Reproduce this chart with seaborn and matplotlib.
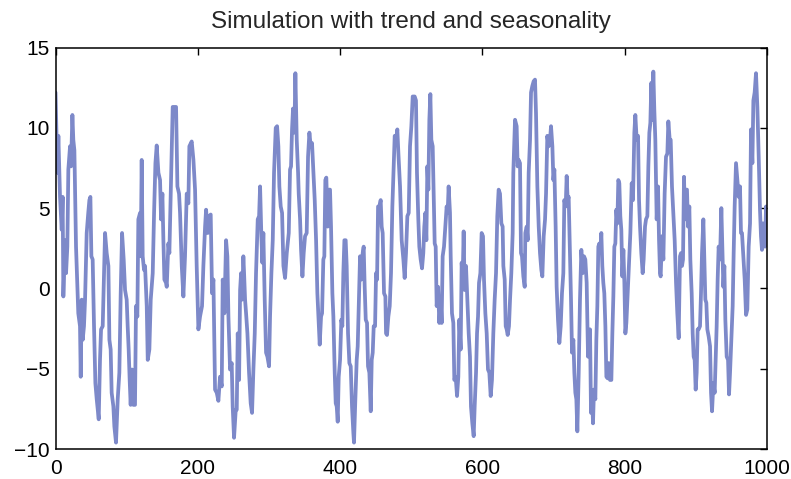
import matplotlib
matplotlib.use("Agg")
import matplotlib.pyplot as plt
import seaborn as sns
import pandas as pd

title = "Simulation with trend and seasonality"
x_ticks = [0, 200, 400, 600, 800, 1000]
y_ticks = [-10, -5, 0, 5, 10, 15]

t = [0, 2.6, 4, 6.3, 8.7, 10, 11, 13.4, 14.8, 16.6, 18, 20.4, 21.8, 23.7, 25, 26.5, 28.8, 32, 34.4, 35.4,
     36.8, 38.2, 40, 41.5, 43.8, 46, 47.6, 49, 50.4, 52.2, 54.1, 56, 57.9, 60.7, 62.5, 64, 66.3, 68.2, 69.6, 71.9,
     74.3, 75.7, 77.5, 78.9, 81.3, 82.7, 85, 87.4, 89.7, 91.6, 93.5, 95.8, 97.7, 100, 101.4, 102.8, 104.2, 105.6, 107.5, 109.4,
     111.7, 113.1, 115, 116.4, 118.8, 119.7, 121.1, 122.5, 124.4, 125.8, 128.2, 129.6, 131.9, 133.8, 136.6, 138.5, 140.4, 142.2, 144.6, 146.9,
     148.3, 150.2, 151.6, 153, 155.3, 156.3, 158.6, 160, 161.9, 163.8, 164.7, 167, 169.4, 171.3, 173.6, 175, 177.4, 179.7, 182, 184.4,
     186.7, 188.1, 191.4, 193.8, 196.1, 198.4, 200.8, 203.1, 205.9, 207.8, 210.2, 211.6, 213.9, 215.8, 218.1, 220, 221.9, 224.2, 226.6, 228.9,
     231.2, 233.6, 235, 237.3, 239.7, 241.5, 243, 245.3, 247.6, 249, 250.9, 253.3, 254.7, 256.1, 258, 259.4, 260.8, 262.2, 264, 265,
     266.4, 267.8, 269.7, 272, 274.3, 276.2, 278.1, 280, 281.8, 284.2, 286.1, 287.5, 289.3, 290.7, 292.1, 294, 295.9, 297.8, 300.1, 301.5,
     303.4, 305.3, 307.1, 309.5, 311.4, 313.2, 314.6, 316.5, 318.4, 320.3, 322.6, 325, 327.8, 329.6, 331, 332.4, 333.8, 335.7, 337.1, 339,
     340.9, 341.8, 343.7, 345.1, 347, 348.8, 350.7, 353, 354.9, 356.8, 358.7, 360.5, 362.4, 364.3, 366.2, 368, 369.9, 371.3, 373.2, 374.6,
     376.4, 377.8, 379.2, 380.6, 382.5, 384.4, 385.8, 387.2, 389.1, 390.5, 392.4, 393.8, 395.2, 396.6, 398, 399.9, 401.7, 403.1, 404.5, 406,
     407.8, 409.2, 411.1, 413, 414.9, 416.7, 418.6, 419.5, 421.4, 423.3, 424.7, 426.6, 428, 429.8, 431.7, 433.1, 434.5, 436, 437.8, 439.2,
     441.1, 443, 444.4, 445.8, 447.2, 449.1, 450.5, 451.9, 453.3, 455.1, 457, 458.4, 459.8, 461.7, 463.6, 464.5, 465.9, 467.8, 469.7, 471.5,
     473.4, 474.8, 476.7, 478.6, 480.4, 481.9, 484.2, 486.5, 488.9, 490.7, 492.6, 494.5, 496.4, 498.2, 500.1, 502, 504.8, 506.6, 508, 509.9,
     511.3, 513.2, 515.1, 516.9, 518.3, 519.8, 521.2, 522.6, 524, 525.4, 526.8, 528.2, 530.1, 531.5, 532.9, 534.3, 535.7, 537.6, 539.4, 541.3,
     542.7, 544.1, 546, 547.9, 549.7, 551.1, 552.5, 554.4, 555.4, 557.2, 559.1, 560.5, 562.4, 564.3, 566.1, 567.5, 569.4, 570.8, 572.2, 573.6,
     575, 576.9, 578.8, 580.7, 582.5, 583.9, 585.8, 587.7, 589.1, 591, 592.4, 593.8, 595.2, 597.1, 598.9, 600.8, 602.2, 604.1, 606, 607.8,
     609.7, 611.6, 613.4, 615.3, 617.2, 619.1, 620.9, 622.8, 624.7, 626.6, 628.4, 629.4, 631.3, 632.7, 634.1, 635.5, 637.3, 638.8, 640.6, 642.5,
     643.4, 644.8, 645.8, 648.1, 649.5, 650.9, 652.8, 654.2, 655.6, 657.5, 659.4, 660.3, 662.2, 663.6, 665, 666.9, 668.3, 670.1, 672, 673.9,
     675.3, 677.2, 679.1, 680.9, 682.8, 684.2, 686.1, 688, 689.4, 691.2, 693.1, 695, 696.4, 698.3, 699.7, 701.1, 702.9, 704.3, 706.2, 708.1,
     710, 711.8, 713.7, 715.1, 717, 718.4, 719.8, 721.2, 723.1, 724.5, 725.9, 727.8, 729.2, 730.6, 732, 733.4, 735.3, 737.1, 739, 740.9,
     742.8, 744.6, 746.5, 748.4, 750.3, 751.2, 752.6, 754, 755.4, 756.8, 758.7, 760.1, 761.5, 762.9, 764.3, 765.7, 767.1, 768.5, 769.9, 771.3,
     772.8, 774.2, 776, 777.4, 779.3, 781.2, 782.6, 784, 785.4, 786.8, 788.2, 789.6, 791, 792.4, 793.8, 795.2, 796.6, 798.1, 799.5, 800.9,
     802.3, 804.1, 806, 807.9, 809.8, 811.6, 813.5, 814.9, 816.8, 818.7, 820.1, 821.5, 823.3, 825.2, 826.6, 828.5, 829.9, 831.8, 833.2, 834.6,
     836, 837.4, 838.8, 840.2, 841.6, 843, 844.9, 846.8, 848.2, 849.6, 850.5, 852.4, 854.3, 856.1, 858, 859.9, 861.3, 863.2, 864.6, 866.4,
     868.3, 870.2, 872.1, 873.9, 875.8, 877.7, 879.1, 880.5, 881.9, 883.3, 884.7, 886.1, 887.5, 888.9, 890.8, 892.2, 894.1, 895.5, 896.9, 898.3,
     899.7, 901.1, 902.5, 903.9, 905.8, 907.2, 908.6, 910.5, 911.9, 913.3, 914.7, 916.1, 918, 919.9, 921.3, 922.7, 924.6, 926.4, 927.8, 929.2,
     930.6, 932, 933.9, 935.8, 937.2, 938.6, 940, 941.4, 943.3, 945.2, 946.6, 948, 949.9, 951.7, 953.1, 954.5, 956.4, 958.3, 960.2, 962,
     963.4, 964.8, 966.7, 968.6, 970.5, 972.3, 974.2, 976.1, 977.5, 979.4, 980.8, 982.6, 984.5, 986.4, 988.3, 990.1, 991.5, 992.9, 994.4, 995.8,
     997.2, 998.6, 999.5]

y = [12.2, 7.2, 9.5, 5.7, 3.65, 5.7, -0.5, 3.0, 0.95, 2.6, 7.4, 8.85, 7.6, 10.8, 9.25, 8.6, 2.6, -1.55, -2.35, -5.5,
     -0.7, -3.2, -2.35, -0.7, 3.45, 4.7, 5.5, 5.7, 2.0, 1.8, -2.35, -5.9, -6.9, -8.15, -4.45, -2.55, -2.35, 0.95, 3.45, 2.2,
     1.4, -3.2, -3.8, -6.5, -7.35, -8.6, -9.6, -6.9, -5.25, -0.3, 3.45, 1.8, -0.1, -0.7, -2.35, -3.8, -5.7, -7.25, -5.05, -7.25,
     -7.25, -1.1, -1.75, 4.3, 4.7, 2.0, 8.0, 2.0, 1.15, 1.4, -1.1, -4.45, -3.8, -0.7, 0.95, 4.7, 7.8, 8.9, 7.2, 6.75,
     4.3, 5.9, 3.0, 0.55, 0.35, 0.1, 2.8, 2.2, 5.9, 9.5, 11.3, 11.3, 11.3, 6.35, 5.9, 4.7, 1.4, -0.5, 2.0, 5.9,
     5.3, 8.85, 9.15, 8.0, 6.15, 1.4, -2.55, -1.75, -1.1, 1.4, 3.85, 4.9, 3.45, 4.5, 4.6, -0.3, 0.55, -6.3, -6.5, -7.0,
     -5.5, -6.1, 0.55, -1.55, 3.0, 2.0, -1.75, -5.05, -4.65, -7.35, -9.3, -7.55, -7.55, -2.8, -5.7, -0.1, 0.95, -0.7, 2.0, 0.95,
     -0.7, -1.55, -2.8, -5.25, -7.15, -7.75, -5.05, -2.8, 0.95, 4.3, 4.5, 6.35, 3.25, 1.6, 3.45, -0.7, -4.0, -4.25, -4.85, -1.75,
     0.95, 3.0, 7.2, 10.0, 10.1, 8.85, 6.35, 5.1, 4.7, 1.4, 0.65, 2.2, 3.45, 7.4, 7.6, 9.9, 11.2, 9.7, 13.4, 9.25,
     7.2, 5.9, 4.3, 2.4, 0.75, 2.2, 3.25, 3.45, 8.2, 9.7, 8.85, 9.05, 7.2, 5.5, 3.0, -0.3, -2.15, -3.5, -1.75, -1.55,
     1.8, 2.0, 6.75, 6.9, 3.85, 6.15, 6.15, 3.85, -0.3, -1.75, -5.25, -7.15, -7.35, -8.3, -5.5, -4.45, -1.95, -2.35, 0.95, 3.0,
     3.0, 1.4, -2.8, -4.65, -4.85, -7.35, -9.0, -9.6, -6.9, -4.45, -3.6, -0.3, 2.0, 0.55, 2.2, 2.6, 0.1, -1.95, -2.15, -4.85,
     -5.25, -7.65, -4.45, -4.0, -2.35, -2.35, 0.95, 0.55, 5.1, 5.1, 5.5, 3.85, 3.45, -0.3, -0.5, -2.8, -2.9, -1.75, -1.1, 0.95,
     5.1, 7.0, 9.5, 9.25, 9.9, 8.4, 6.35, 3.0, 1.8, 0.65, 2.2, 4.5, 4.7, 8.85, 10.1, 11.95, 11.95, 11.7, 7.2, 4.3,
     2.6, 1.8, 1.25, 2.2, 3.85, 4.7, 3.0, 7.6, 6.15, 10.5, 12.1, 9.25, 8.85, 5.9, 2.8, 2.6, -1.1, 0.1, -2.15, -0.7,
     -2.15, 2.0, 2.6, 3.85, 5.1, 4.7, 6.35, 4.7, 2.0, -1.55, -2.15, -5.7, -5.5, -6.7, -5.5, -1.95, -3.8, 1.6, 0.55, 3.55,
     -0.1, 1.4, -0.7, -2.8, -4.25, -7.35, -8.4, -9.2, -7.35, -5.25, -2.8, -1.75, 0.35, 0.95, 3.45, 3.25, 0.55, -1.55, -2.8, -5.05,
     -5.25, -6.7, -5.7, -2.8, -0.7, 0.95, 4.5, 6.15, 5.9, 4.05, 3.85, 1.4, 0.55, -2.35, -2.55, -2.9, -2.35, -0.7, 0.95, 3.45,
     7.2, 9.05, 10.5, 10.1, 7.6, 8.0, 7.8, 2.2, 2.0, 0.75, 0.1, 3.45, 3.85, 3.0, 7.2, 9.25, 12.2, 12.6, 12.9, 13.0,
     10.9, 6.35, 3.85, 2.2, 1.15, 0.75, 3.25, 4.3, 5.9, 9.5, 8.85, 9.25, 10.1, 8.85, 6.75, 7.4, 3.85, 0.1, -1.95, -3.4,
     -2.35, -0.3, 0.95, 5.5, 5.1, 7.0, 5.5, 5.7, 2.0, -0.7, -4.0, -3.2, -5.25, -6.5, -6.9, -8.9, -5.25, -0.7, 2.4, 0.95,
     2.0, 1.8, 0.35, -4.25, -2.8, -2.55, -7.75, -6.5, -8.4, -6.3, -6.9, -3.2, -1.1, 2.6, 2.8, 2.2, 3.45, 1.4, 0.35, -0.3,
     -2.35, -5.5, -5.6, -4.65, -5.7, -5.7, -2.8, -0.5, 2.6, 2.8, 4.9, 4.05, 6.75, 6.55, 4.5, 3.65, 0.75, 2.4, 0.35, -2.8,
     -2.15, -0.3, 1.8, 3.45, 6.55, 5.5, 9.7, 10.8, 9.25, 9.5, 5.5, 3.85, 2.2, 0.95, 1.8, 3.85, 4.3, 4.5, 7.6, 9.7,
     10.3, 12.8, 10.5, 13.5, 11.1, 9.25, 4.3, 6.35, 3.0, 0.95, 0.75, 3.25, 1.8, 5.9, 8.2, 8.4, 10.4, 9.25, 9.25, 6.35,
     4.7, 3.0, 0.35, -1.55, -3.1, 2.0, 2.2, 1.4, 1.8, 6.95, 4.3, 6.15, 6.15, 3.85, 5.1, 1.8, -0.3, -2.8, -4.25, -4.45,
     -6.3, -5.25, -2.55, -2.55, -2.35, -0.3, 2.2, 4.3, 1.8, -0.7, -0.9, -2.55, -3.0, -3.6, -6.5, -7.65, -5.9, -6.5, -4.45, -2.35,
     0.55, 2.6, 1.8, 5.0, 2.6, 0.1, 1.4, -1.95, -4.25, -4.45, -6.6, -5.25, -3.2, -1.1, 2.2, 5.1, 7.8, 6.75, 5.7, 6.35,
     3.45, 3.45, 2.0, 0.55, -1.65, -1.3, 2.6, 4.05, 9.9, 7.8, 11.7, 12.2, 13.4, 11.3, 8.2, 4.9, 3.25, 2.4, 4.05, 3.65,
     2.6, 5.1, 4.3]

df = pd.DataFrame({"t": t, "y": y})

sns.set_style("white")
plt.rcParams["font.family"] = ["Liberation Sans", "DejaVu Sans"]

fig = plt.figure(figsize=(7.91, 4.79), dpi=100)
ax = fig.add_axes([0.0702, 0.0626, 0.8995, 0.8382])

sns.lineplot(data=df, x="t", y="y", ax=ax, sort=False, estimator=None,
             color="#7d89c9", linewidth=2.7)

ax.set_xlim(0, 1000)
ax.set_ylim(-10, 15)
ax.set_xticks(x_ticks)
ax.set_yticks(y_ticks)
ax.set_xticklabels([str(v) for v in x_ticks])
ax.set_yticklabels([str(v).replace("-", "\u2212") for v in y_ticks])
ax.set_xlabel("")
ax.set_ylabel("")
ax.set_title(title, fontsize=17.5, pad=14)
ax.tick_params(direction="in", length=5, width=1, top=True, right=True,
               labelsize=15, colors="black")
ax.tick_params(axis="x", pad=7)
ax.tick_params(axis="y", pad=4)
for s in ax.spines.values():
    s.set_visible(True)
    s.set_color("black")
    s.set_linewidth(1.1)

fig.savefig("out.png", dpi=100)
